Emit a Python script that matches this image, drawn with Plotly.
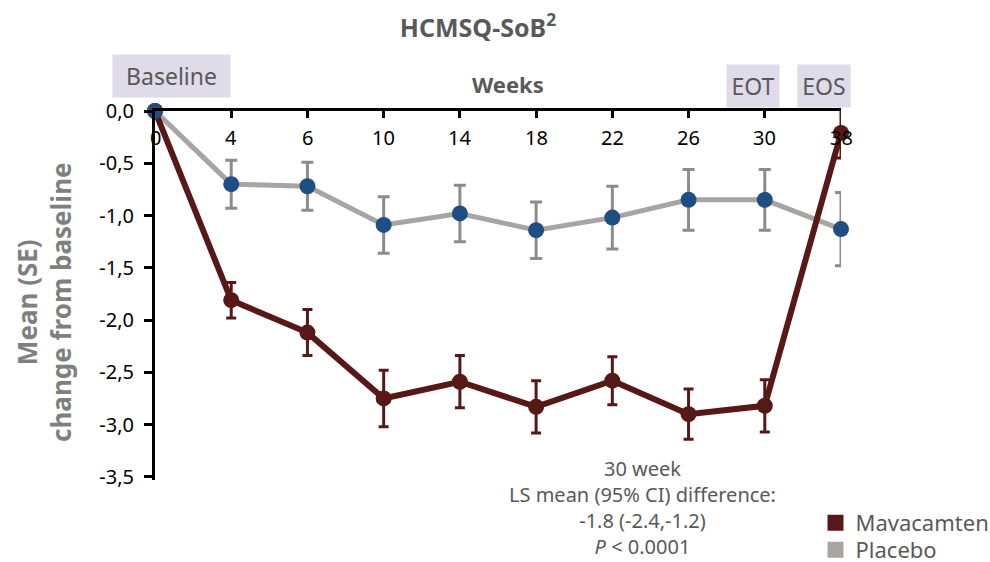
import plotly.graph_objects as go

weeks = ["0", "4", "6", "10", "14", "18", "22", "26", "30", "38"]
mava_mean = [0.0, -1.81, -2.12, -2.75, -2.59, -2.83, -2.58, -2.90, -2.82, -0.21]
mava_se = [0.0, 0.17, 0.22, 0.27, 0.25, 0.25, 0.23, 0.24, 0.25, 0.24]
plac_mean = [0.0, -0.70, -0.72, -1.09, -0.98, -1.14, -1.02, -0.85, -0.85, -1.13]
plac_se = [0.0, 0.23, 0.23, 0.27, 0.27, 0.27, 0.30, 0.29, 0.29, 0.35]
ytick_vals = [0.0, -0.5, -1.0, -1.5, -2.0, -2.5, -3.0, -3.5]
ytick_text = ["0,0", "-0,5", "-1,0", "-1,5", "-2,0", "-2,5", "-3,0", "-3,5"]

MAVA = "#571818"
PLAC = "#a9a4a4"
PLAC_MK = "#1f4e84"
PLAC_ERR = "#8c8c8c"
TXT = "#595959"
FONT = "Noto Sans"

fig = go.Figure()

fig.add_trace(go.Scatter(
    x=weeks, y=plac_mean, mode="lines",
    line=dict(color=PLAC, width=5),
    error_y=dict(type="data", array=plac_se, color=PLAC_ERR, thickness=3, width=6),
    showlegend=False, cliponaxis=False, hoverinfo="skip"))

fig.add_trace(go.Scatter(
    x=weeks, y=mava_mean, mode="lines+markers",
    line=dict(color=MAVA, width=6),
    marker=dict(color=MAVA, size=16),
    error_y=dict(type="data", array=mava_se, color=MAVA, thickness=3, width=5),
    showlegend=False, cliponaxis=False))

fig.add_trace(go.Scatter(
    x=weeks, y=plac_mean, mode="markers",
    marker=dict(color=PLAC_MK, size=16),
    showlegend=False, cliponaxis=False))

fig.add_trace(go.Scatter(x=[None], y=[None], mode="markers", name="Mavacamten",
                         legend="legend",
                         marker=dict(symbol="square", color=MAVA, size=19)))
fig.add_trace(go.Scatter(x=[None], y=[None], mode="markers", name="Placebo",
                         legend="legend2",
                         marker=dict(symbol="square", color=PLAC, size=19)))

L, R, T, B = 155, 149, 111, 82
W, H = 990, 562
PW, PH = W - L - R, H - T - B


def px(x):
    return (x - L) / PW


def py(y):
    return (H - B - y) / PH


def ann(text, x, y, size, color=TXT, **kw):
    d = dict(text=text, x=px(x), y=py(y), xref="paper", yref="paper",
             xanchor="center", yanchor="middle", showarrow=False,
             font=dict(size=size, color=color, family=FONT))
    d.update(kw)
    return d


annotations = [
    ann("<b>Weeks</b>", 508, 84, 22),
    ann("<b>Mean (SE)<br>change from baseline</b>", 44, 302, 26, color="#7f7f7f",
        textangle=-90),
    ann("Baseline", 171.5, 76, 23, width=117, height=42, bgcolor="#e0dbe9", borderpad=0),
    ann("EOT", 753, 86, 23, width=52, height=42, bgcolor="#e0dbe9", borderpad=0),
    ann("EOS", 824, 86, 23, width=52, height=42, bgcolor="#e0dbe9", borderpad=0),
    ann("30 week<br>LS mean (95% CI) difference:<br>-1.8 (-2.4,-1.2)<br><i>P</i> < 0.0001",
        642, 507, 20, align="center"),
]

# x tick labels placed just below the top axis line
for i, wk in enumerate(weeks):
    annotations.append(dict(text=wk, x=i, xref="x", y=py(138), yref="paper",
                            xanchor="center", yanchor="middle", showarrow=False,
                            font=dict(size=20, color="black", family=FONT)))

leg_common = dict(xanchor="left", yanchor="top",
                  font=dict(size=22, color=TXT, family=FONT),
                  bgcolor="rgba(0,0,0,0)")

fig.update_layout(
    width=W, height=H,
    margin=dict(l=L, r=R, t=T, b=B, autoexpand=False),
    paper_bgcolor="white", plot_bgcolor="white",
    font=dict(family=FONT, color="black"),
    title=dict(text="<b>HCMSQ-SoB<sup>2</sup></b>", x=478 / W, y=1 - 28 / H,
               xanchor="center", yanchor="middle",
               font=dict(size=25, color=TXT, family=FONT)),
    xaxis=dict(type="category", range=[0, len(weeks) - 1], side="top",
               showline=True, linecolor="black", linewidth=3,
               ticks="inside", ticklen=7, tickwidth=3, tickcolor="black",
               showticklabels=False,
               showgrid=False, zeroline=False),
    yaxis=dict(range=[-3.53, 0], showline=True, linecolor="black", linewidth=3,
               ticks="outside", ticklen=8, tickwidth=3, tickcolor="black",
               tickvals=ytick_vals, ticktext=ytick_text, ticklabelstandoff=6,
               tickfont=dict(size=20, color="black", family=FONT),
               showgrid=False, zeroline=False),
    legend=dict(x=px(815.5), y=py(502), **leg_common),
    legend2=dict(x=px(815.5), y=py(529), **leg_common),
    annotations=annotations,
    showlegend=True,
)

fig.write_html("out.html")
